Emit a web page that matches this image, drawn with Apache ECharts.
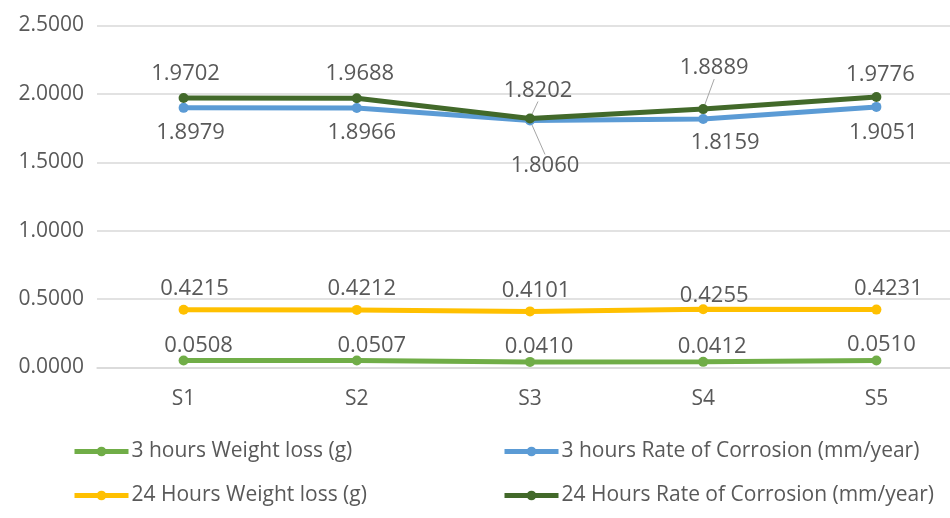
<!DOCTYPE html>
<html>
<head>
<meta charset="utf-8">
<script src="https://cdn.jsdelivr.net/npm/echarts@6/dist/echarts.min.js"></script>
<style>
html,body{margin:0;padding:0;background:#fff;}
#chart{width:950px;height:518px;}
</style>
</head>
<body>
<div id="chart"></div>
<script>
var categories = ['S1', 'S2', 'S3', 'S4', 'S5'];
var weightLoss3h = [0.0508, 0.0507, 0.0410, 0.0412, 0.0510];
var corrosion3h = [1.8979, 1.8966, 1.8060, 1.8159, 1.9051];
var weightLoss24h = [0.4215, 0.4212, 0.4101, 0.4255, 0.4231];
var corrosion24h = [1.9702, 1.9688, 1.8202, 1.8889, 1.9776];
var seriesNames = ['3 hours Weight loss (g)', '3 hours Rate of Corrosion (mm/year)', '24 Hours Weight loss (g)', '24 Hours Rate of Corrosion (mm/year)'];
var yMin = 0, yMax = 2.5, yStep = 0.5;

var FONT = 'Open Sans';
var TXT = '#595959';
var colors = ['#70AD47', '#5B9BD5', '#FFC000', '#42692A'];

// label nudges (styling only): per series, per point [dx, dy]
var labelNudge = [
  [[15, 6], [15, 6], [9, 6], [9, 6], [5, 5]],
  [[7, 4], [5, 4], [15, 24], [22, 3], [7, 5]],
  [[11, 0], [5, 0], [6, 0], [11, 7], [12, 0]],
  [[2, -3], [3, -3], [8, -7], [11, -20], [4, -1]]
];
// labels that get a leader line: [seriesIdx, dataIdx]
var guided = [[1, 2], [3, 2], [3, 3]];

var chart = echarts.init(document.getElementById('chart'), null, {renderer: 'canvas'});

function fmt(v) { return Number(v).toFixed(4); }

var guideLine = {show: true, lineStyle: {color: '#a6a6a6', width: 1}};

function mkSeries(idx, data, position) {
  return {
    name: seriesNames[idx],
    type: 'line',
    data: data.map(function (v, i) {
      var o = {value: v};
      guided.forEach(function (g) {
        if (g[0] === idx && g[1] === i) o.labelLine = guideLine;
      });
      return o;
    }),
    symbol: 'circle',
    symbolSize: 10,
    z: 2 + idx,
    lineStyle: {color: colors[idx], width: 5},
    itemStyle: {color: colors[idx]},
    label: {
      show: true,
      position: position,
      distance: 5,
      color: TXT,
      fontFamily: FONT,
      fontSize: 22,
      formatter: function (p) { return fmt(p.value); }
    },
    labelLayout: function (p) {
      var n = labelNudge[p.seriesIndex][p.dataIndex];
      return {dx: n[0], dy: n[1]};
    },
    emphasis: {disabled: true},
    animation: false
  };
}

function mkLegend(idx, left, top) {
  return {
    show: true,
    data: [seriesNames[idx]],
    left: left,
    top: top,
    itemWidth: 54,
    itemHeight: 12,
    itemGap: 0,
    padding: 0,
    lineStyle: {width: 5},
    textStyle: {color: TXT, fontFamily: FONT, fontSize: 21, padding: [0, 0, 0, -2]},
    selectedMode: false
  };
}

var option = {
  backgroundColor: '#ffffff',
  animation: false,
  color: colors,
  grid: {left: 97, top: 25.5, width: 866, height: 342, outerBoundsMode: 'none', containLabel: false},
  legend: [
    mkLegend(0, 72, 441),
    mkLegend(1, 502, 441),
    mkLegend(2, 72, 485),
    mkLegend(3, 502, 485)
  ],
  xAxis: {
    type: 'category',
    data: categories,
    boundaryGap: true,
    axisLine: {show: true, lineStyle: {color: '#d9d9d9', width: 1.5}},
    axisTick: {show: false},
    axisLabel: {color: TXT, fontFamily: FONT, fontSize: 21, margin: 21}
  },
  yAxis: {
    type: 'value',
    min: yMin,
    max: yMax,
    interval: yStep,
    axisLine: {show: false},
    axisTick: {show: false},
    splitLine: {lineStyle: {color: '#d9d9d9', width: 1.5}},
    axisLabel: {color: TXT, fontFamily: FONT, fontSize: 21, margin: 13, formatter: fmt}
  },
  series: [
    mkSeries(0, weightLoss3h, 'top'),
    mkSeries(1, corrosion3h, 'bottom'),
    mkSeries(2, weightLoss24h, 'top'),
    mkSeries(3, corrosion24h, 'top')
  ]
};
chart.setOption(option);
</script>
</body>
</html>
